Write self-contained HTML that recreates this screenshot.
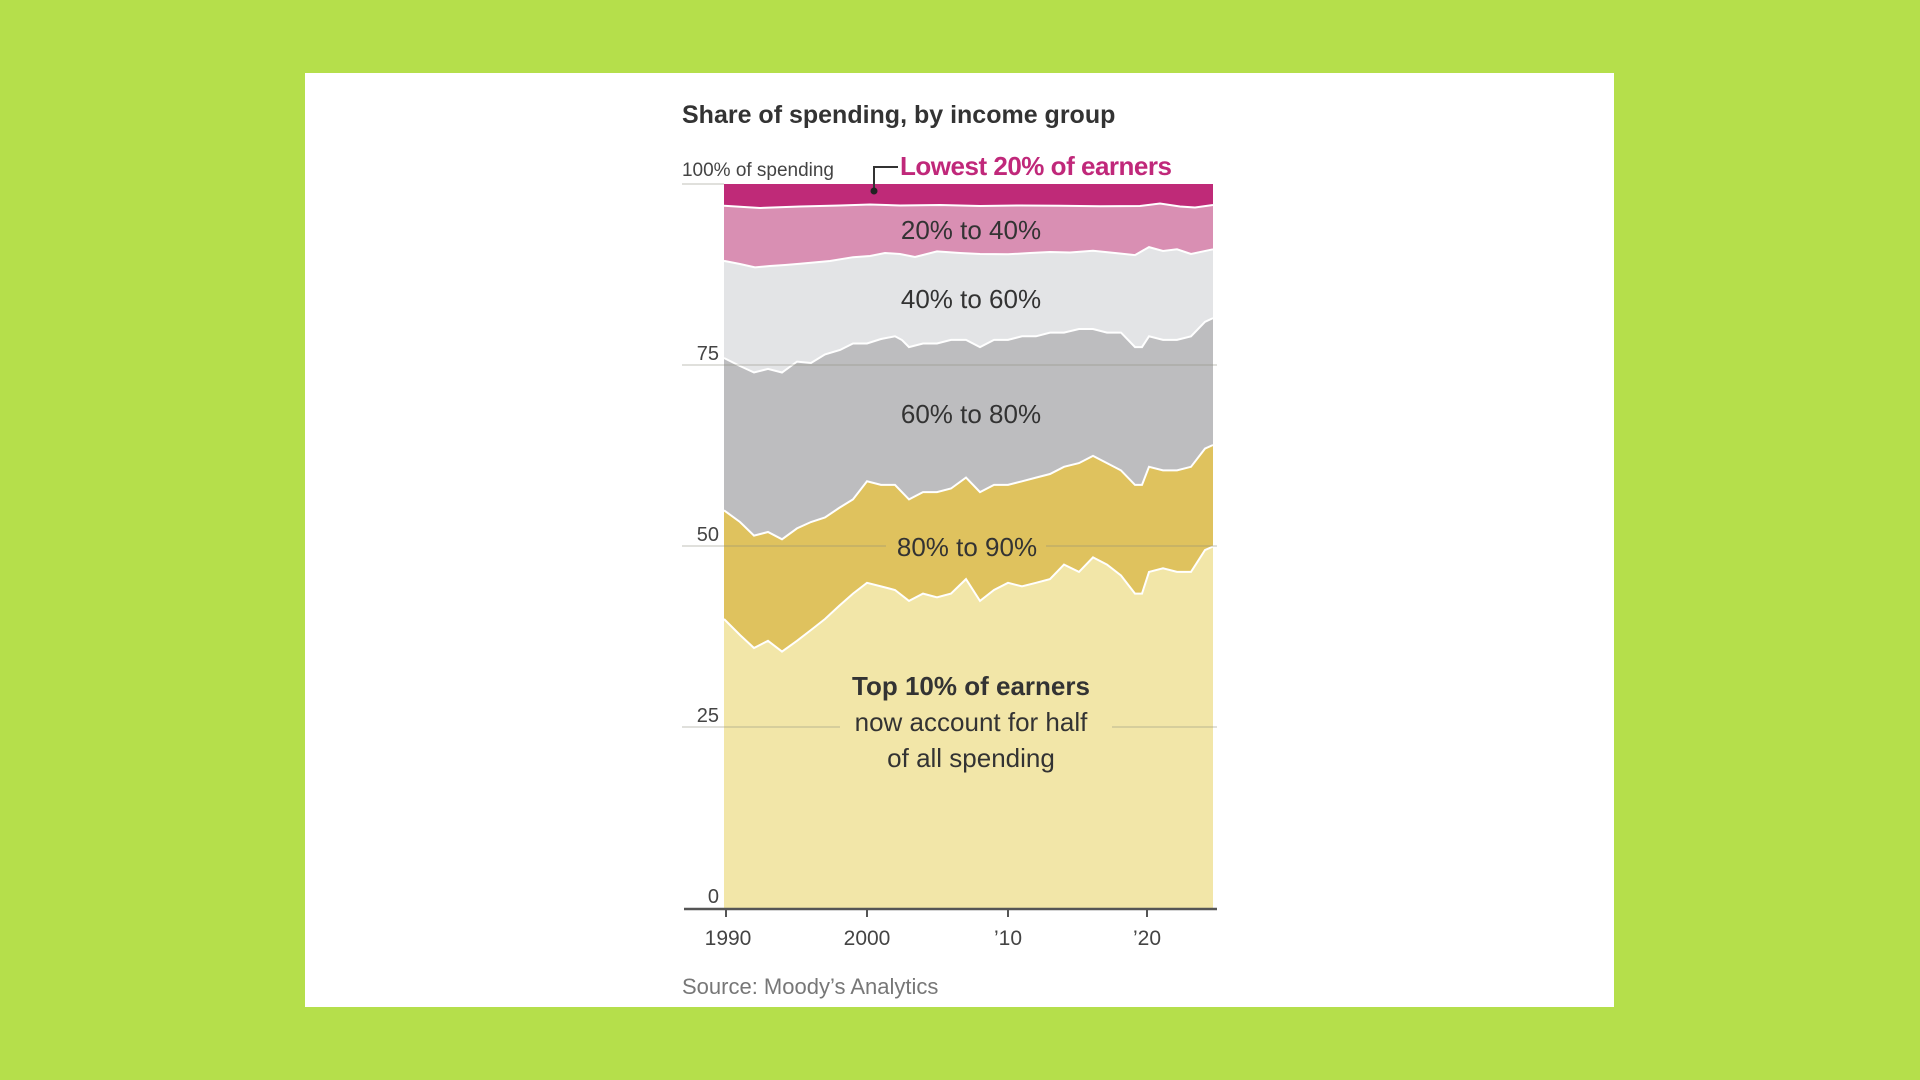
<!DOCTYPE html>
<html><head><meta charset="utf-8"><style>
body{margin:0;width:1920px;height:1080px;background:#b5df4b;overflow:hidden;font-family:"Liberation Sans",sans-serif}
#card{position:absolute;left:305px;top:73px;width:1309px;height:934px;background:#fff}
svg{position:absolute;left:0;top:0}
</style></head><body>
<div id="card"></div>
<svg width="1920" height="1080" xmlns="http://www.w3.org/2000/svg" font-family="Liberation Sans, sans-serif">
<rect x="724" y="184" width="489" height="725" fill="#bf2a78"/>
<polygon fill="#d98fb3" points="724,205.8 760,208 800,206.5 840,205.5 870,204.5 900,205.5 940,205 980,206 1020,205.5 1060,205.8 1100,206.3 1140,206 1160,203.5 1180,206.5 1195,207.5 1213,205 1213,909 724,909"/>
<polygon fill="#e3e4e6" points="724,260.9 740,264 755,267.4 770,266 785,265 800,263.8 830,261 853,257.2 870,256 885,253 900,254 915,257 937,251.4 960,253 980,254 1008,254.3 1030,253 1050,252 1070,252.5 1093,250.7 1115,253 1135,255.1 1149,247.1 1163,251 1177,249.3 1191,254 1213,249.3 1213,909 724,909"/>
<polygon fill="#bdbdbf" points="724,358 740,366 754,372.5 768,368.9 782,372.5 797,361.6 811,363 825,354.4 840,350 853,343.5 867,343.5 881,339 895,336.3 902,340 909,347.1 923,343.5 937,343.5 951,339.9 966,339.9 980,347.1 994,339.9 1008,339.9 1022,336.3 1036,336.3 1050,332.6 1064,332.6 1079,329 1093,329 1107,332.6 1121,332.6 1135,347.1 1142,347.1 1149,336.3 1163,339.9 1177,339.9 1191,336.3 1205,321.8 1213,318.1 1213,909 724,909"/>
<polygon fill="#dfc25e" points="724,510.3 740,522 754,535.6 768,532 782,539.3 797,528.4 811,522 825,517.5 839,508 853,499.4 867,481.3 881,484.9 895,484.9 909,499.4 923,492.1 937,492.1 951,488.5 966,477.6 980,492.1 994,484.9 1008,484.9 1022,481.3 1036,477.6 1050,474 1064,466.8 1079,463.1 1093,455.9 1107,463.1 1121,470.4 1135,484.9 1142,484.9 1149,466.8 1163,470.4 1177,470.4 1191,466.8 1205,448.6 1213,445 1213,909 724,909"/>
<polygon fill="#f2e6a8" points="724,619 740,635 754,648 768,640.8 782,651.6 797,640.8 811,630 825,619 839,606 853,593.6 867,582.8 881,586.4 895,590 909,600.9 923,593.6 937,597.3 951,593.6 966,579.1 980,600.9 994,590 1008,582.8 1022,586.4 1036,582.8 1050,579.1 1064,564.6 1079,571.9 1093,557.4 1107,564.6 1121,575.5 1135,593.6 1142,593.6 1149,571.9 1163,568.3 1177,571.9 1191,571.9 1205,550.1 1213,546.5 1213,909 724,909"/>
<g fill="none" stroke="#fff" stroke-width="2">
<polyline points="724,205.8 760,208 800,206.5 840,205.5 870,204.5 900,205.5 940,205 980,206 1020,205.5 1060,205.8 1100,206.3 1140,206 1160,203.5 1180,206.5 1195,207.5 1213,205"/>
<polyline points="724,260.9 740,264 755,267.4 770,266 785,265 800,263.8 830,261 853,257.2 870,256 885,253 900,254 915,257 937,251.4 960,253 980,254 1008,254.3 1030,253 1050,252 1070,252.5 1093,250.7 1115,253 1135,255.1 1149,247.1 1163,251 1177,249.3 1191,254 1213,249.3"/>
<polyline points="724,358 740,366 754,372.5 768,368.9 782,372.5 797,361.6 811,363 825,354.4 840,350 853,343.5 867,343.5 881,339 895,336.3 902,340 909,347.1 923,343.5 937,343.5 951,339.9 966,339.9 980,347.1 994,339.9 1008,339.9 1022,336.3 1036,336.3 1050,332.6 1064,332.6 1079,329 1093,329 1107,332.6 1121,332.6 1135,347.1 1142,347.1 1149,336.3 1163,339.9 1177,339.9 1191,336.3 1205,321.8 1213,318.1"/>
<polyline points="724,510.3 740,522 754,535.6 768,532 782,539.3 797,528.4 811,522 825,517.5 839,508 853,499.4 867,481.3 881,484.9 895,484.9 909,499.4 923,492.1 937,492.1 951,488.5 966,477.6 980,492.1 994,484.9 1008,484.9 1022,481.3 1036,477.6 1050,474 1064,466.8 1079,463.1 1093,455.9 1107,463.1 1121,470.4 1135,484.9 1142,484.9 1149,466.8 1163,470.4 1177,470.4 1191,466.8 1205,448.6 1213,445"/>
<polyline points="724,619 740,635 754,648 768,640.8 782,651.6 797,640.8 811,630 825,619 839,606 853,593.6 867,582.8 881,586.4 895,590 909,600.9 923,593.6 937,597.3 951,593.6 966,579.1 980,600.9 994,590 1008,582.8 1022,586.4 1036,582.8 1050,579.1 1064,564.6 1079,571.9 1093,557.4 1107,564.6 1121,575.5 1135,593.6 1142,593.6 1149,571.9 1163,568.3 1177,571.9 1191,571.9 1205,550.1 1213,546.5"/>
</g>
<g stroke="#8a8a7a" stroke-opacity="0.35" stroke-width="1.5">
<line x1="682" y1="365" x2="1217" y2="365"/>
<line x1="682" y1="546" x2="886" y2="546"/><line x1="1046" y1="546" x2="1217" y2="546"/>
<line x1="682" y1="727" x2="840" y2="727"/><line x1="1112" y1="727" x2="1217" y2="727"/>
<line x1="682" y1="184" x2="724" y2="184"/>
</g>
<line x1="684" y1="909" x2="1217" y2="909" stroke="#555" stroke-width="2.5"/>
<g stroke="#555" stroke-width="2"><line x1="726" y1="909" x2="726" y2="917"/><line x1="867" y1="909" x2="867" y2="917"/><line x1="1008" y1="909" x2="1008" y2="917"/><line x1="1147" y1="909" x2="1147" y2="917"/></g>
<g font-size="21" fill="#444" text-anchor="middle">
<text x="728" y="945">1990</text><text x="867" y="945">2000</text><text x="1008" y="945">’10</text><text x="1147" y="945">’20</text>
</g>
<g font-size="20" fill="#444" text-anchor="end">
<text x="719" y="360">75</text><text x="719" y="541">50</text><text x="719" y="722">25</text><text x="719" y="903">0</text>
</g>
<text x="682" y="123" font-size="25" font-weight="bold" fill="#333">Share of spending, by income group</text>
<text x="682" y="176" font-size="19" fill="#444" textLength="152">100% of spending</text>
<text x="900" y="175" font-size="26" font-weight="bold" fill="#c0287a" textLength="272">Lowest 20% of earners</text>
<polyline points="898,167 874,167 874,191" fill="none" stroke="#333" stroke-width="2"/>
<circle cx="874" cy="191" r="3.5" fill="#222"/>
<g font-size="26" fill="#333" text-anchor="middle">
<text x="971" y="239">20% to 40%</text>
<text x="971" y="308">40% to 60%</text>
<text x="971" y="423">60% to 80%</text>
<text x="967" y="556">80% to 90%</text>
<text x="971" y="695" font-weight="bold">Top 10% of earners</text>
<text x="971" y="731">now account for half</text>
<text x="971" y="767">of all spending</text>
</g>
<text x="682" y="994" font-size="22" fill="#777">Source: Moody’s Analytics</text>
</svg>
</body></html>
